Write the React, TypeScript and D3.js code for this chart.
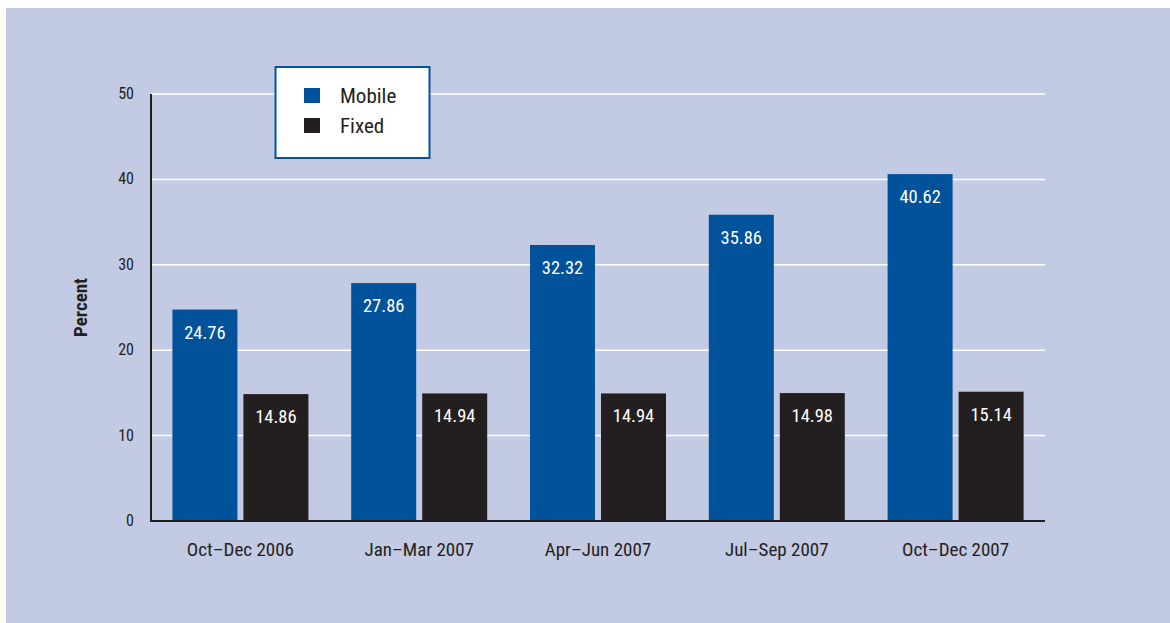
import React from "react";
import * as d3 from "d3";

const categories = ["Oct–Dec 2006", "Jan–Mar 2007", "Apr–Jun 2007", "Jul–Sep 2007", "Oct–Dec 2007"];
const mobile = [24.76, 27.86, 32.32, 35.86, 40.62];
const fixed = [14.86, 14.94, 14.94, 14.98, 15.14];
const yTicks = [0, 10, 20, 30, 40, 50];
const seriesNames = ["Mobile", "Fixed"];

const W = 1170, H = 623;
const BG = "#C3CAE3";
const BLUE = "#00529B";
const DARK = "#231F20";
const FONT = "'Liberation Sans Narrow', 'Roboto Condensed', 'Liberation Sans', Arial, sans-serif";

export default function App() {
  const left = 151, right = 1045, top = 94, bottom = 521;
  const y = d3.scaleLinear().domain([0, 50]).range([bottom, top]);
  const x0 = d3.scaleBand<string>().domain(categories).range([left, right]).paddingInner(0).paddingOuter(0);
  const barW = 65, gap = 6;
  const series = [mobile, fixed];
  const colors = [BLUE, DARK];

  return (
    <svg width={W} height={H} style={{ position: "absolute", left: 0, top: 0 }} fontFamily={FONT}>
      <rect x={6} y={8} width={W - 6} height={H - 8} fill={BG} />
      {yTicks.filter(t => t > 0).map(t => (
        <line key={t} x1={left} x2={right} y1={y(t)} y2={y(t)} stroke="#fff" strokeWidth={1.5} />
      ))}
      {yTicks.map(t => (
        <text key={t} x={134} y={y(t) + 5} textAnchor="end" fontSize={16} fill={DARK}>{t}</text>
      ))}
      <text transform={`translate(87,${(top + bottom) / 2}) rotate(-90)`} textAnchor="middle" fontSize={19} fontWeight="bold" fill={DARK}>Percent</text>
      {categories.map((c, i) => {
        const cx = (x0(c) as number) + x0.bandwidth() / 2;
        return (
          <g key={c}>
            {series.map((s, k) => {
              const bx = k === 0 ? cx - gap / 2 - barW : cx + gap / 2;
              const v = s[i];
              return (
                <g key={k}>
                  <rect x={bx} y={y(v)} width={barW} height={bottom - y(v)} fill={colors[k]} />
                  <text x={bx + barW / 2} y={y(v) + 29} textAnchor="middle" fontSize={18.5} fill="#fff">{v.toFixed(2)}</text>
                </g>
              );
            })}
            <text x={cx} y={556} textAnchor="middle" fontSize={19} fill={DARK}>{c}</text>
          </g>
        );
      })}
      <line x1={left} x2={left} y1={top} y2={bottom + 1} stroke={DARK} strokeWidth={2} />
      <line x1={left - 1} x2={right} y1={bottom} y2={bottom} stroke={DARK} strokeWidth={2} />
      <rect x={275.5} y={67} width={154} height={91} fill="#fff" stroke="#0055A0" strokeWidth={2} />
      {seriesNames.map((n, k) => (
        <g key={n}>
          <rect x={304} y={88 + k * 30} width={16} height={15} fill={colors[k]} />
          <text x={340} y={103 + k * 30} fontSize={21} fill={DARK}>{n}</text>
        </g>
      ))}
    </svg>
  );
}
